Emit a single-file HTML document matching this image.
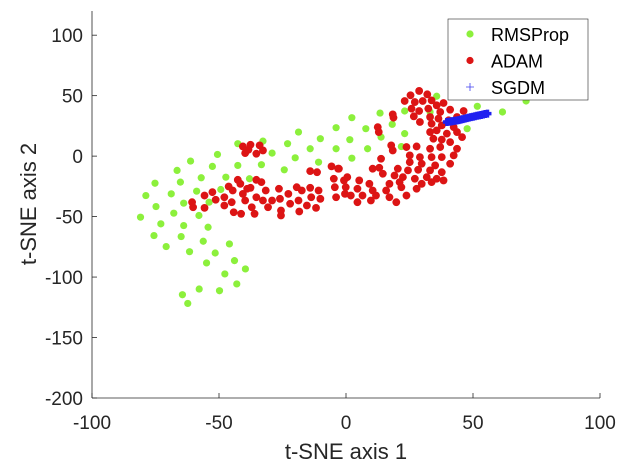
<!DOCTYPE html>
<html><head><meta charset="utf-8">
<style>
body{margin:0;background:#fff;}
svg{display:block;font-family:"Liberation Sans",Arial,sans-serif;}
</style></head>
<body>
<svg id="chart" width="625" height="468" viewBox="0 0 625 468" xmlns="http://www.w3.org/2000/svg">
<g id="axes"></g>
<g id="rms"></g>
<g id="adam"></g>
<g id="sgdm"></g>
<g id="legend"></g>
</svg>
<script>
const xTicks=[-100,-50,0,50,100];
const yTicks=[100,50,0,-50,-100,-150,-200];
const rmsX=[-42.6,-32.7,-18.7,-10.1,-3.9,-23,-14.1,-3.9,-29.1,-20,-10.8,-50.6,-61.2,-52.6,-42.6,-33.3,-24.3,-66.5,-75.2,-65.2,-57,-47.3,-38,-78.8,-68.8,-58.8,-49.3,-74.8,-63.9,-53.9,-80.9,-67.8,-57.9,-72.9,-63.9,-54.3,-75.6,-64.9,-56.2,-70.8,-45.9,-61.6,-51.5,-43.9,-54.9,-39.6,-47.7,-43,-57.8,-49.8,-64.4,-62.3,2.3,13.4,23.1,35.7,51.7,61.6,70.9,7.8,18.2,1.5,13.8,23.1,8.5,21.8,2.3,47.7,33.1];
const rmsY=[10.3,12.4,19.9,14.4,23.5,10.3,6.1,6.1,2.5,-1.4,-5,1.4,-4.1,-8.5,-7.7,-7.1,-11.3,-11.8,-22.4,-21.5,-17.9,-17.4,-18.7,-32.6,-31.2,-29,-27.6,-41.7,-38.9,-38.1,-50.5,-47.2,-49.1,-56,-57.4,-58.8,-65.7,-66.5,-70.4,-74.8,-72.6,-79,-80.1,-86.4,-88.3,-93.3,-97.4,-105.7,-109.9,-111.3,-114.6,-121.8,31.8,35.6,37.3,49.5,41.2,36.5,45.6,22.7,26.3,13.6,15.7,18.6,6.1,7.9,-1.7,22.7,36.5];
const adamX=[-40.6,-37.6,-34,-39.7,-35.3,-32.7,-38.4,-60.6,-60.2,-55.7,-55.7,-52.6,-51.3,-47.9,-47.9,-46.2,-44.6,-45,-44.2,-42.6,-41.6,-40.6,-41.3,-39.7,-38.9,-37.6,-37.1,-35.3,-35.3,-36,-33.3,-32.7,-31.6,-30.7,-29.1,-26.4,-26,-25.6,-25.6,-22.7,-22,-19.4,-18.7,-18.4,-17.4,-15.4,-14.1,-14.1,-13.7,-11.4,-11.8,-10.8,-10.1,-5.7,-3.1,-4.8,-4.4,-3.9,-0.8,-0.4,
28.8,25.4,32,23.1,27.1,30.2,33.7,35.7,38.4,25.8,28.8,32.4,37.1,41,46.3,18.4,18.7,26.7,29.1,33.1,36.4,40.4,43.7,33.7,37.7,42.4,12.5,12.9,33.1,35.7,39.7,43.7,45.7,34.4,37.7,41,17.8,18.4,23.8,27.8,33.1,37.1,43.7,25.1,29.1,33.7,37.7,42.4,13.8,13.1,25.1,29.8,35.1,41,10.5,20.4,24.4,28.4,33.1,37.7,14.5,19.1,22.4,27.1,31.8,35.7,17.1,21.1,29.8,33.7,38.4,-2.8,0.5,5.2,9.2,-0.1,4.5,10.5,15.8,21.8,27.8,1.9,6.5,11.8,17.1,23.8,4.5,9.8,19.8];
const adamY=[8,9.4,8.9,2.5,2,4.7,5.3,-38.1,-42.3,-32.6,-42.8,-29.8,-36.1,-34,-40.8,-25.1,-28.4,-38.1,-46.4,-19.6,-22.9,-31.2,-47.7,-36.7,-27,-26.2,-42.3,-19.6,-34,-47.7,-21.5,-36.7,-28.4,-42.3,-36.7,-27,-35.3,-45,-49.1,-31.2,-39.4,-25.7,-36.7,-45.8,-28.4,-40.8,-12.4,-26.2,-34,-13.3,-42.8,-28.4,-35.3,-8.5,-10.4,-18.7,-25.7,-34,-20.1,-31.2,
53.9,50.3,51.1,45.6,44.7,45.6,46.1,42,43.9,39.3,37.3,39.3,36.5,38.4,37.3,34.5,31.8,32.9,28.2,32.3,31,29.6,32.3,26.8,25.4,24,24,19.9,19.9,21.3,18.6,19.9,15.7,14.4,13.6,11.6,8.9,4.7,7.5,8,6.1,7.5,6.1,0.6,-0.8,-0.8,-0.8,0.6,-2.2,-9.6,-5,-6.3,-7.7,-6.3,-10.4,-10.4,-11.8,-11.3,-11.8,-13.3,-14.6,-16,-17.4,-18.7,-17.4,-18.7,-22.9,-21.5,-22.9,-21.5,-20.1,-10.4,-17.4,-20.1,-22.9,-25.7,-27,-28.4,-28.4,-25.7,-27,-32.6,-32.6,-32.6,-34,-32.6,-38.1,-36.7,-38.1];
const sgdmX=[39.7,40.5,41.3,42,42.8,43.6,44.4,45.2,46,46.8,47.6,48.4,49.2,50,50.8,51.6,52.4,53.2,54,54.8,55.7];
const sgdmY=[28.2,28.4,28.6,28.9,29.2,29.5,29.8,30.2,30.6,31,31.4,31.8,32.2,32.6,33,33.4,33.7,34,34.4,34.8,35.1];

const NS='http://www.w3.org/2000/svg';
const X0=92,X1=600,Y0=398,Ytop=11;
const sx=v=>X0+(v+100)/200*(X1-X0);
const sy=v=>Y0-(v+200)/320*(Y0-Ytop);
function mk(tag,attrs,parent){const e=document.createElementNS(NS,tag);for(const k in attrs)e.setAttribute(k,attrs[k]);parent.appendChild(e);return e;}
const ax=document.getElementById('axes');
let l=mk('line',{x1:X0,y1:Y0,x2:X1,y2:Y0,stroke:'#262626','stroke-width':0.8},ax);


l=mk('line',{x1:X0,y1:Y0,x2:X0,y2:Ytop,stroke:'#262626','stroke-width':0.8},ax);


xTicks.forEach(t=>{
  const x=sx(t);
  const tk=mk('line',{x1:x,y1:Y0,x2:x,y2:Y0-5,stroke:'#262626','stroke-width':0.8},ax);
  
  
  const tx=mk('text',{x:x,y:Y0+31,'text-anchor':'middle','font-size':19,fill:'#262626'},ax);
  
  
  tx.textContent=t;
});
yTicks.forEach(t=>{
  const y=sy(t);
  const tk=mk('line',{x1:X0,y1:y,x2:X0+5,y2:y,stroke:'#262626','stroke-width':0.8},ax);
  
  
  const tx=mk('text',{x:X0-9,y:y+7,'text-anchor':'end','font-size':19,fill:'#262626'},ax);
  
  
  tx.textContent=t;
});
let tt=mk('text',{x:346,y:459,'text-anchor':'middle','font-size':22,fill:'#262626'},ax);


tt.textContent='t-SNE axis 1';
tt=mk('text',{x:0,y:0,'text-anchor':'middle','font-size':22,fill:'#262626',transform:'translate(36,204) rotate(-90)'},ax);


tt.textContent='t-SNE axis 2';

const g1=document.getElementById('rms');
rmsX.forEach((v,i)=>{
  const c=mk('circle',{cx:sx(v),cy:sy(rmsY[i]),r:3.6,fill:'#8cf03c'},g1);
  
  
});
const g2=document.getElementById('adam');
adamX.forEach((v,i)=>{
  const c=mk('circle',{cx:sx(v),cy:sy(adamY[i]),r:3.9,fill:'#dc1414'},g2);
  
  
});
const g3=document.getElementById('sgdm');
sgdmX.forEach((v,i)=>{
  const x=sx(v),y=sy(sgdmY[i]);
  const p=mk('path',{d:`M${x-4} ${y}H${x+4}M${x} ${y-4}V${y+4}`,stroke:'#2020f0','stroke-width':3.5},g3);
  
  
});

const lg=document.getElementById('legend');
const box=mk('rect',{x:448,y:19,width:140,height:81,fill:'#fff',stroke:'#262626','stroke-width':0.6},lg);


const names=['RMSProp','ADAM','SGDM'];
const cols=['#8cf03c','#dc1414','#4040f0'];
names.forEach((n,i)=>{
  const y=34+i*26.5;
  let m;
  if(i<2){m=mk('circle',{cx:470,cy:y,r:3.6,fill:cols[i]},lg);}
  else{m=mk('path',{d:`M${466} ${y}H${474}M470 ${y-4}V${y+4}`,stroke:cols[i],'stroke-width':0.8},lg);}
  
  
  const t=mk('text',{x:491,y:y+7,'font-size':18,fill:'#000'},lg);
  
  
  t.textContent=n;
});
</script>
</body></html>
